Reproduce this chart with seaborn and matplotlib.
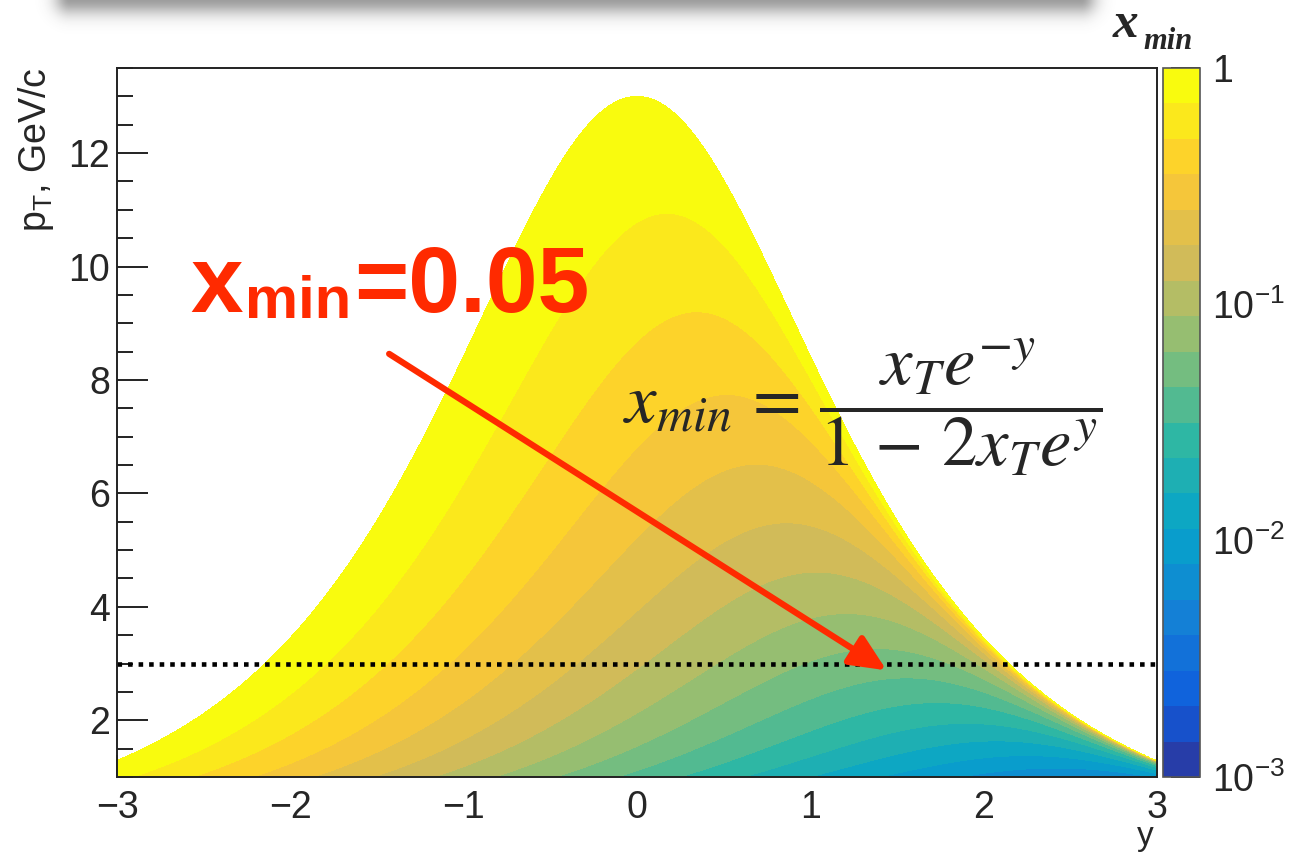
import numpy as np
import matplotlib
matplotlib.use("Agg")
from matplotlib import pyplot as plt
from matplotlib.colors import LinearSegmentedColormap
from matplotlib.ticker import MultipleLocator
import seaborn as sns

# kinematics of the plot: sqrt(s) and the (y, pT) window
sqrt_s = 26.0                 # GeV
y_lim = (-3.0, 3.0)
pt_lim = (1.0, 13.5)
n_levels = 20                 # ROOT default number of contours
log_zmin, log_zmax = -3.0, 0.0

# ROOT kBird palette stops
bird_stops = [0.0, 0.125, 0.25, 0.375, 0.5, 0.625, 0.75, 0.875, 1.0]
bird_red = [0.2082, 0.0592, 0.0780, 0.0232, 0.1802, 0.5301, 0.8186, 0.9956, 0.9764]
bird_green = [0.1664, 0.3599, 0.5041, 0.6419, 0.7178, 0.7492, 0.7328, 0.7862, 0.9832]
bird_blue = [0.5293, 0.8684, 0.8385, 0.7914, 0.6425, 0.4662, 0.3499, 0.1968, 0.0539]

# annotations
cut_y = [-3.0, 3.0]           # dotted line pT = 3 GeV/c
cut_pt = [3.0, 3.0]
arrow_from = (-1.43, 8.46)
arrow_to = (1.44, 2.88)
cbar_ticks = [-3, -2, -1, 0]
cbar_labels = [r'$10^{-3}$', r'$10^{-2}$', r'$10^{-1}$', '1']

sns.set_style("ticks")
plt.rcParams['font.family'] = ['Liberation Sans', 'DejaVu Sans']
plt.rcParams['mathtext.fontset'] = 'custom'
plt.rcParams['mathtext.rm'] = 'Liberation Sans'
plt.rcParams['mathtext.it'] = 'Liberation Sans:italic'
plt.rcParams['mathtext.bf'] = 'Liberation Sans:bold'
plt.rcParams['mathtext.sf'] = 'Liberation Sans'

# x_min over the (y, pT) plane
yy = np.linspace(y_lim[0], y_lim[1], 900)
pp = np.linspace(pt_lim[0], pt_lim[1], 900)
Y, P = np.meshgrid(yy, pp)
xT = 2 * P / sqrt_s
den = 2 - xT * np.exp(Y)
with np.errstate(divide='ignore', invalid='ignore'):
    xmin = np.where(den > 0, xT * np.exp(-Y) / den, 1e5)
logx = np.log10(xmin)

# colours of the bands the way ROOT picks them from a 255 colour gradient
bird = LinearSegmentedColormap.from_list(
    'bird', list(zip(bird_stops, zip(bird_red, bird_green, bird_blue))), N=255)
band_colors = [bird(int((i + 0.99) * 255 / n_levels) / 254) for i in range(n_levels)]
levels = np.linspace(log_zmin, log_zmax, n_levels + 1)

W, H = 1309, 852
fig = plt.figure(figsize=(W / 100, H / 100), dpi=100)
ax = fig.add_axes([117 / W, 1 - 777 / H, 1040 / W, 709 / H])
cax = fig.add_axes([1163 / W, 1 - 777 / H, 37 / W, 709 / H])

cs = ax.contourf(Y, P, logx, levels=levels, colors=band_colors)

sns.lineplot(x=cut_y, y=cut_pt, ax=ax, color='black', lw=3.3,
             linestyle=(0, (1, 1.3)), legend=False)

ax.annotate('', xy=arrow_to, xytext=arrow_from,
            arrowprops=dict(arrowstyle='-|>,head_length=2.2,head_width=1.0',
                            color='#ff2a00', lw=4.5, shrinkA=0, shrinkB=0))

ax.set_xlim(*y_lim)
ax.set_ylim(*pt_lim)
ax.xaxis.set_major_locator(MultipleLocator(1))
ax.xaxis.set_minor_locator(MultipleLocator(0.2))
ax.yaxis.set_major_locator(MultipleLocator(2))
ax.yaxis.set_minor_locator(MultipleLocator(0.5))
ax.set_xticks([-3, -2, -1, 0, 1, 2, 3])
ax.set_xticklabels(['\u22123', '\u22122', '\u22121', '0', '1', '2', '3'])
ax.tick_params(which='both', direction='in', top=False, right=False,
               labelsize=27, color='#222222', width=1.4)
ax.tick_params(axis='x', which='major', length=16, pad=9)
ax.tick_params(axis='x', which='minor', length=8)
ax.tick_params(axis='y', which='major', length=22, pad=5)
ax.tick_params(axis='y', which='minor', length=11.5)
for sp in ax.spines.values():
    sp.set_color('#222222')
    sp.set_linewidth(1.4)

ax.set_ylabel(r'p$_{\rm T}$, GeV/c', loc='top', fontsize=27)
ax.yaxis.label.set_verticalalignment('baseline')
ax.yaxis.set_label_coords((46 - 117) / 1040, 1.0)
ax.set_xlabel('y', loc='right', fontsize=24)
ax.xaxis.label.set_verticalalignment('baseline')
ax.xaxis.set_label_coords(0.997, (777 - 845) / 709)

cb = fig.colorbar(cs, cax=cax)
cb.set_ticks(cbar_ticks, labels=cbar_labels)
minor = [np.log10(k * 10.0 ** e) for e in (-3, -2, -1) for k in range(2, 10)]
cb.set_ticks(minor, minor=True)
cax.yaxis.set_ticks_position('right')
cax.tick_params(which='both', direction='in', right=True, left=False,
                labelsize=27, color='#222222', width=1.4, pad=9)
cax.tick_params(which='major', length=21)
cax.tick_params(which='minor', length=11)
cb.outline.set_linewidth(1.2)
cb.outline.set_edgecolor('#555555')

# colorbar title x_min
fig.text(1113 / W, 1 - 37 / H, 'x', family='Liberation Serif', style='italic',
         weight='bold', fontsize=37, va='baseline', ha='left')
fig.text(1143 / W, 1 - 49 / H, 'min', family='Liberation Serif', style='italic',
         weight='bold', fontsize=22, va='baseline', ha='left')

# big red label
red = '#ff2a00'
fig.text(190 / W, 1 - 312 / H, 'x', color=red, weight='bold', fontsize=68,
         va='baseline', ha='left')
fig.text(245 / W, 1 - 318 / H, 'min', color=red, weight='bold', fontsize=43,
         va='baseline', ha='left')
fig.text(354 / W, 1 - 312 / H, '=0.05', color=red, weight='bold', fontsize=67,
         va='baseline', ha='left')

# formula
fig.text(623 / W, 1 - 407 / H,
         r'$x_{min}\,=\,\dfrac{x_T e^{-y}}{1\,-\,2x_T e^{y}}$',
         math_fontfamily='stix', fontsize=51, va='center', ha='left')

# shadow of the slide box at the top
sx = np.arange(W)
sy = np.arange(60)
SX, SY = np.meshgrid(sx, sy)
dx = np.maximum(np.maximum(70 - SX, SX - 1080), 0)
dy = np.maximum(SY + 2, 0)
d = np.hypot(dx, dy)
alpha = 0.55 * np.exp(-(d / 16.0) ** 2)
shade = np.zeros((60, W, 4))
shade[..., :3] = 0.3
shade[..., 3] = alpha
sax = fig.add_axes([0, 1 - 60 / H, 1, 60 / H])
sax.imshow(shade, aspect='auto', interpolation='bilinear')
sax.axis('off')

fig.savefig('out.png', dpi=100)
